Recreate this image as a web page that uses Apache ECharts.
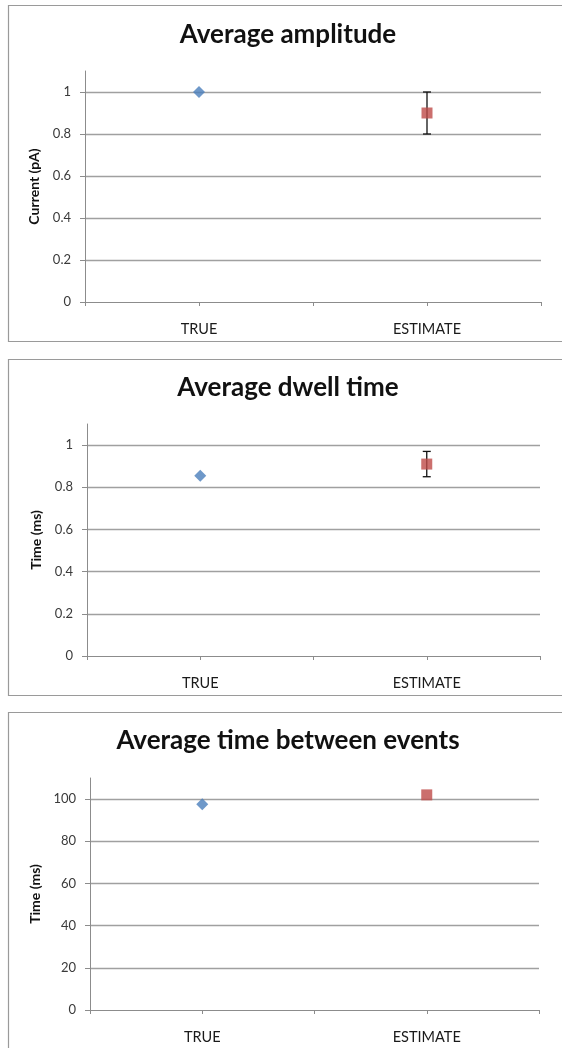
<!DOCTYPE html>
<html>
<head>
<meta charset="utf-8">
<script src="https://cdn.jsdelivr.net/npm/echarts@6/dist/echarts.min.js"></script>
<style>
  html, body { margin: 0; padding: 0; background: #ffffff; }
  #chart { width: 562px; height: 1048px; }
</style>
</head>
<body>
<div id="chart"></div>
<script>
// Categories shared by all three panels
const categories = ['TRUE', 'ESTIMATE'];

// Panel 1: average amplitude (pA)
const amplitudeTitle = 'Average amplitude';
const amplitudeAxisName = 'Current (pA)';
const amplitudeValues = [1.0, 0.9];
const amplitudeError = [0.8, 1.0];        // low / high of the estimate
const amplitudeTicks = [0, 0.2, 0.4, 0.6, 0.8, 1];

// Panel 2: average dwell time (ms)
const dwellTitle = 'Average dwell time';
const dwellAxisName = 'Time (ms)';
const dwellValues = [0.855, 0.91];
const dwellError = [0.85, 0.97];
const dwellTicks = [0, 0.2, 0.4, 0.6, 0.8, 1];

// Panel 3: average time between events (ms)
const intervalTitle = 'Average time between events';
const intervalAxisName = 'Time (ms)';
const intervalValues = [97.6, 102];
const intervalTicks = [0, 20, 40, 60, 80, 100];

const FONT = 'Lato, "Open Sans", sans-serif';
const BLUE = '#4a7ebb';
const RED = '#be4b48';
const GRID_GRAY = '#a0a0a0';
const AXIS_GRAY = '#8c8c8c';

const panels = [
  { title: amplitudeTitle, name: amplitudeAxisName, values: amplitudeValues, error: amplitudeError,
    ticks: amplitudeTicks, max: 1.1, box: [5, 341], titleY: 35, grid: { left: 85, right: 21, top: 71, height: 231 } },
  { title: dwellTitle, name: dwellAxisName, values: dwellValues, error: dwellError,
    ticks: dwellTicks, max: 1.1, box: [359, 695], titleY: 388, grid: { left: 87, right: 22, top: 424, height: 232 } },
  { title: intervalTitle, name: intervalAxisName, values: intervalValues, error: null,
    ticks: intervalTicks, max: 110, box: [712, 1060], titleY: 741, grid: { left: 90, right: 23, top: 778, height: 232 } }
];

const grids = [];
const xAxes = [];
const yAxes = [];
const series = [];
const graphics = [];

panels.forEach((p, i) => {
  // panel frame (runs off the right edge)
  graphics.push({
    type: 'rect', silent: true, z: -1,
    shape: { x: 8.5, y: p.box[0] + 0.5, width: 580, height: p.box[1] - p.box[0] },
    style: { fill: '#ffffff', stroke: '#9a9a9a', lineWidth: 1.2 }
  });
  graphics.push({
    type: 'text', silent: true,
    x: 288, y: p.titleY,
    style: { text: p.title, fill: '#111111', font: 'bold 26px ' + FONT, textAlign: 'center', textVerticalAlign: 'middle' }
  });

  grids.push(p.grid);

  // category axis: ticks on category boundaries, labels centred
  xAxes.push({
    type: 'category', gridIndex: i, data: categories, position: 'bottom', boundaryGap: true,
    axisLine: { lineStyle: { color: AXIS_GRAY, width: 1 } },
    axisTick: { show: true, length: 4, lineStyle: { color: AXIS_GRAY } },
    axisLabel: { color: '#1a1a1a', fontFamily: FONT, fontSize: 14.5, margin: 20 },
    splitLine: { show: false }
  });
  // second category axis only for the ticks under each category
  xAxes.push({
    type: 'category', gridIndex: i, data: categories, position: 'bottom', boundaryGap: true,
    axisLine: { show: false },
    axisTick: { show: true, alignWithLabel: true, length: 4, lineStyle: { color: AXIS_GRAY } },
    axisLabel: { show: false },
    splitLine: { show: false }
  });

  yAxes.push({
    type: 'value', gridIndex: i, min: 0, max: p.max, interval: p.ticks[1] - p.ticks[0],
    name: p.name, nameLocation: 'middle', nameGap: p.grid.left - 50,
    nameTextStyle: { fontFamily: FONT, fontWeight: 'bold', fontSize: 14, color: '#111111' },
    axisLine: { show: true, lineStyle: { color: AXIS_GRAY, width: 1 } },
    axisTick: { show: true, length: 5, customValues: p.ticks, lineStyle: { color: AXIS_GRAY } },
    axisLabel: { customValues: p.ticks, color: '#3a3a3a', fontFamily: FONT, fontSize: 13, margin: 14 },
    splitLine: { show: true, showMinLine: false, lineStyle: { color: GRID_GRAY, width: 1.3 } }
  });

  const xIdx = i * 2;
  series.push({
    type: 'scatter', xAxisIndex: xIdx, yAxisIndex: i,
    symbol: 'diamond', symbolSize: [12, 12],
    itemStyle: { color: BLUE },
    data: [[categories[0], p.values[0]]],
    z: 3
  });
  if (p.error) {
    series.push({
      type: 'custom', xAxisIndex: xIdx, yAxisIndex: i,
      data: [[categories[1], p.error[0], p.error[1]]],
      renderItem: (params, api) => {
        const lo = api.coord([api.value(0), api.value(1)]);
        const hi = api.coord([api.value(0), api.value(2)]);
        const cap = 4;
        const st = { stroke: '#111111', lineWidth: 1.3 };
        return {
          type: 'group',
          children: [
            { type: 'line', shape: { x1: lo[0], y1: lo[1], x2: hi[0], y2: hi[1] }, style: st },
            { type: 'line', shape: { x1: lo[0] - cap, y1: lo[1], x2: lo[0] + cap, y2: lo[1] }, style: st },
            { type: 'line', shape: { x1: hi[0] - cap, y1: hi[1], x2: hi[0] + cap, y2: hi[1] }, style: st }
          ]
        };
      },
      z: 2
    });
  }
  series.push({
    type: 'scatter', xAxisIndex: xIdx, yAxisIndex: i,
    symbol: 'rect', symbolSize: [11, 11],
    itemStyle: { color: RED },
    data: [[categories[1], p.values[1]]],
    z: 4
  });
});

const chart = echarts.init(document.getElementById('chart'), null, { renderer: 'canvas' });
chart.setOption({
  backgroundColor: '#ffffff',
  animation: false,
  textStyle: { fontFamily: FONT },
  grid: grids,
  xAxis: xAxes,
  yAxis: yAxes,
  series: series,
  graphic: graphics
});
</script>
</body>
</html>
